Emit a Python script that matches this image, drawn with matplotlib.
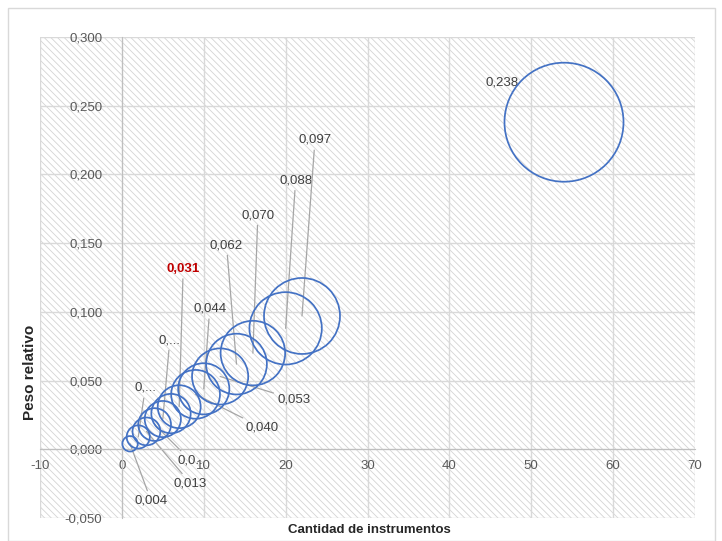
import matplotlib
matplotlib.use('Agg')
import matplotlib.pyplot as plt
from matplotlib.patches import Rectangle

plt.rcParams['font.family'] = ['Liberation Sans', 'DejaVu Sans']
plt.rcParams['hatch.linewidth'] = 0.6
plt.rcParams['axes.unicode_minus'] = False

# datos
cantidad = [1, 2, 3, 4, 5, 6, 7, 9, 10, 12, 14, 16, 20, 22, 54]
peso = [0.004, 0.009, 0.013, 0.018, 0.022, 0.026, 0.031, 0.040, 0.044,
        0.053, 0.062, 0.070, 0.088, 0.097, 0.238]
etiquetas = ['0,004', '0,...', '0,013', '0,0..', '0,...', '', '0,031', '0,040',
             '0,044', '0,053', '0,062', '0,070', '0,088', '0,097', '0,238']
# desplazamiento de la etiqueta (pixeles)
offs = [(21, -57), (7, 49), (44, -52), (36, -36), (7, 79), (0, 0), (4, 138),
        (66, -33), (6, 80), (74, -23), (-10, 119), (5, 138), (10, 148),
        (13, 176), (-62, 40)]

fig = plt.figure(figsize=(7.22, 5.41), dpi=100)
ax = fig.add_axes([40/722, 1-518/541, 655/722, 481/541])

# fondo rayado
ax.add_patch(Rectangle((0, 0), 1, 1, transform=ax.transAxes, facecolor='white',
                       edgecolor='#d4d4d4', hatch='\\\\\\\\\\', lw=0, zorder=0))
fig.add_artist(Rectangle((8/722, 0), 707/722, 1-8/541, transform=fig.transFigure,
                         fill=False, edgecolor='#d9d9d9', lw=1))

ax.set_xlim(-10, 70)
ax.set_ylim(-0.05, 0.3)
ax.set_xticks(range(-10, 71, 10))
ax.set_yticks([-0.05, 0, 0.05, 0.1, 0.15, 0.2, 0.25, 0.3])
ax.set_yticklabels([f'{v:.3f}'.replace('.', ',') for v in ax.get_yticks()])
ax.grid(True, color='#d9d9d9', lw=1, zorder=1)
ax.set_axisbelow(True)
for s in ['top', 'right']:
    ax.spines[s].set_visible(False)
ax.spines['left'].set_position(('data', 0))
ax.spines['bottom'].set_position(('data', 0))
for s in ['left', 'bottom']:
    ax.spines[s].set_color('#bfbfbf')
ax.tick_params(length=0, labelsize=9.5, labelcolor='#595959')
ax.tick_params(axis='x', pad=8)
ax.tick_params(axis='y', pad=14)

escala = 7344 / 0.238
ax.scatter(cantidad, peso, s=[p * escala for p in peso], facecolors='none',
           edgecolors='#4472c4', linewidths=1.25, zorder=3)

for x, y, t, (dx, dy) in zip(cantidad, peso, etiquetas, offs):
    if not t:
        continue
    red = t == '0,031'
    flecha = None
    if t != '0,238':
        flecha = dict(arrowstyle='-', color='#a6a6a6', lw=0.9, shrinkA=1, shrinkB=0)
    ax.annotate(t, (x, y), xytext=(dx, dy), textcoords='offset pixels',
                ha='center', va='center', fontsize=9.5,
                color='#c00000' if red else '#404040',
                fontweight='bold' if red else 'normal',
                arrowprops=flecha, zorder=2)

fig.text(30/722, 1-372/541, 'Peso relativo', rotation=90, ha='center', va='center',
         fontsize=11, fontweight='bold', color='#262626')
fig.text(369/722, 1-530/541, 'Cantidad de instrumentos', ha='center', va='center',
         fontsize=9.5, fontweight='bold', color='#262626')

fig.savefig('out.png', dpi=100)
